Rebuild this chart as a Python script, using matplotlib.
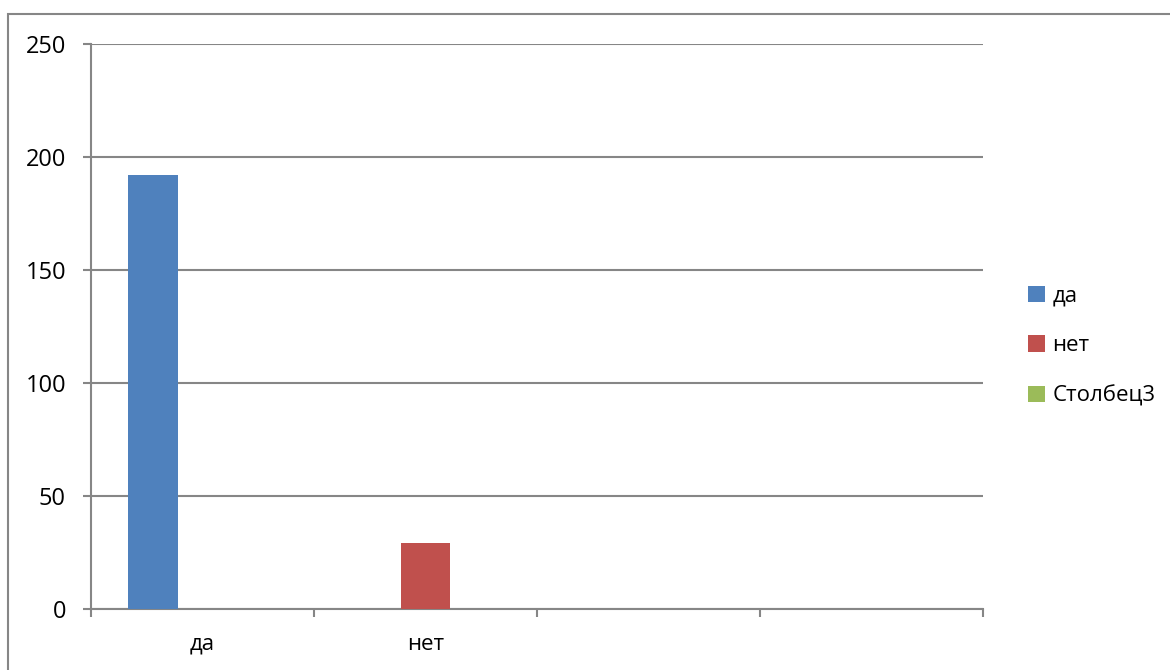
import numpy as np
from matplotlib import pyplot as plt
from matplotlib.patches import Rectangle

plt.rcParams['font.family'] = ['Open Sans', 'DejaVu Sans']

categories = ['да', 'нет', '', '']
series_names = ['да', 'нет', 'Столбец3']
vals_da = [192, np.nan, np.nan, np.nan]
vals_net = [np.nan, 29, np.nan, np.nan]
vals_col3 = [np.nan, np.nan, np.nan, np.nan]
colors = ['#4f81bd', '#c0504d', '#9bbb59']
yticks = [0, 50, 100, 150, 200, 250]

grey = '#868686'

fig = plt.figure(figsize=(11.7, 6.7), dpi=100)
# outer chart border
fig.patches.append(Rectangle((8/1170, -0.01), 1.02, 1 - 14/670 + 0.01,
                             transform=fig.transFigure, fill=False,
                             edgecolor=grey, lw=1.5))

ax = fig.add_axes([91/1170, 61/670, 892/1170, 565/670])

x = np.arange(len(categories))
w = 1 / 4.5
for i, (name, vals) in enumerate(zip(series_names, [vals_da, vals_net, vals_col3])):
    ax.bar(x + (i - 1) * w, np.nan_to_num(vals), width=w, color=colors[i],
           label=name, zorder=3)

ax.set_xlim(-0.5, len(categories) - 0.5)
ax.set_ylim(0, 250)
ax.set_yticks(yticks)
ax.yaxis.grid(True, color=grey, lw=1.5, zorder=0)

ax.set_xticks(x)
ax.set_xticklabels(categories, fontsize=16)
ax.set_xticks(np.arange(-0.5, len(categories)), minor=True)
ax.tick_params(axis='x', which='major', length=0, pad=18)
ax.tick_params(axis='x', which='minor', length=6, width=1.5, color=grey, direction='out')
ax.tick_params(axis='y', length=6, width=1.5, color=grey, direction='out',
               labelsize=17, pad=12)

for s in ['top', 'right']:
    ax.spines[s].set_visible(False)
for s in ['left', 'bottom']:
    ax.spines[s].set_color(grey)
    ax.spines[s].set_linewidth(1.5)

fig.legend(loc='center left', bbox_to_anchor=(1008/1170, 1 - 346/670),
           frameon=False, fontsize=16, handlelength=0.75, handleheight=0.75,
           handletextpad=0.35, labelspacing=1.3)

plt.savefig('out.png', dpi=100)
